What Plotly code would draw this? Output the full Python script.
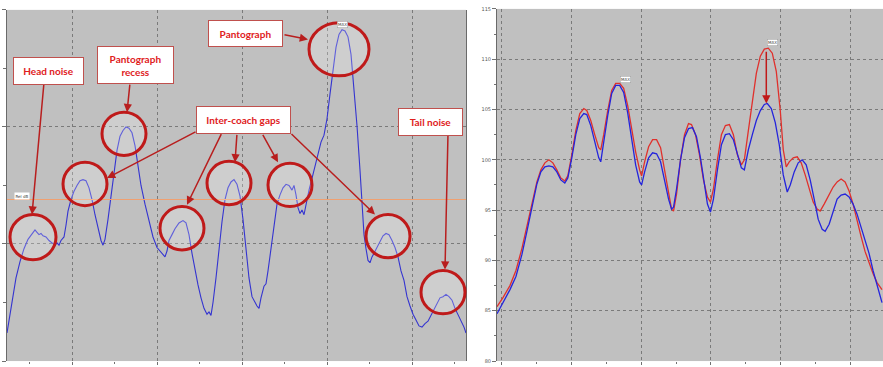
import plotly.graph_objects as go

# ---------------- DATA ----------------
# Left panel: pass-by level along the train (sample position, relative dB)
left_pos = [7,10,13,16,20,24,28,32,35,37,39,41,43,46,49,52,55,57,59,61,64,66,68,71,74,77,80,83,86,89,
            92,95,98,101,103,105,108,111,114,117,120,123,126,129,132,135,138,141,145,149,153,157,161,165,
            167,169,172,175,179,183,186,189,192,195,198,201,204,207,209,211,213,216,219,222,225,228,231,234,
            237,240,243,246,249,252,255,257,259,261,264,266,268,271,274,277,280,283,286,289,292,294,296,298,
            300,302,304,306,309,312,315,318,321,324,327,330,333,336,339,342,345,348,351,354,357,360,362,364,
            366,368,370,372,374,377,380,383,386,389,392,395,398,401,404,407,410,413,416,419,422,425,428,431,
            434,437,440,443,446,449,452,455,458,461,464,466]
left_level = [62.4,63.9,65.5,67.1,68.5,69.6,70.4,70.9,71.2,71.0,70.8,70.9,70.7,70.6,70.3,70.1,69.9,70.1,69.9,70.3,
              70.6,71.6,72.8,73.8,74.5,75.0,75.4,75.5,75.4,74.8,
              73.8,72.5,71.3,70.3,69.9,70.4,72.1,74.2,76.3,78.0,79.2,79.7,80.0,79.9,79.5,78.4,76.7,75.0,73.4,71.9,70.6,69.7,69.3,68.9,
              69.4,70.3,70.8,71.3,71.8,72.0,71.8,70.8,69.2,67.7,66.5,65.4,64.5,64.0,64.2,63.9,65.0,67.1,69.6,71.9,73.8,74.8,75.3,75.5,
              75.1,74.1,72.1,69.6,67.1,65.5,65.0,64.7,64.5,65.4,66.4,66.6,67.7,69.6,71.7,73.4,74.2,74.8,75.1,75.0,74.6,75.0,74.2,73.1,
              72.6,72.9,72.5,73.4,74.6,75.6,76.7,77.8,78.7,79.3,80.7,82.8,84.9,86.8,87.9,88.3,88.2,87.7,86.2,83.4,80.1,76.3,73.4,70.8,
              69.6,68.6,68.4,68.9,69.2,69.7,70.3,70.7,70.9,70.8,70.3,69.7,68.9,67.7,66.9,65.5,64.7,64.0,63.5,63.0,62.9,63.2,63.4,63.9,
              64.5,65.0,65.4,65.5,65.7,65.5,65.2,64.5,64.0,63.5,62.9,62.4]
threshold_level = 73.8

# Right panel: two measured profiles
red_pos = [497,503,510,516,522,527,532,537,541,545,549,553,557,561,565,568,572,576,580,584,587,591,595,599,601,604,608,612,616,620,
           624,628,632,636,640,642,645,649,653,657,661,665,669,672,674,677,681,685,689,692,696,700,704,708,711,714,718,722,726,730,
           734,738,742,745,749,753,757,761,765,769,773,777,781,784,787,790,794,798,802,806,810,814,818,821,825,830,834,838,842,846,
           850,854,858,862,866,870,874,878,883]
red_level = [85.4,86.3,87.5,89.0,91.2,93.3,95.6,97.8,99.0,99.7,100.0,99.7,99.0,98.2,97.9,98.4,100.5,102.9,104.6,105.1,104.9,103.9,102.5,101.2,101.0,102.5,104.9,106.9,107.6,107.6,
             107.1,105.4,103.1,100.8,99.0,98.4,99.8,101.3,102.0,102.0,101.2,99.0,96.6,95.1,94.9,96.6,100.0,102.5,103.6,103.5,102.5,100.5,98.0,96.3,95.8,97.1,100.0,102.5,103.4,103.5,
             102.5,100.5,99.5,100.0,102.9,105.9,108.6,110.3,111.0,111.1,110.6,108.8,104.9,101.0,99.3,99.8,100.2,100.3,99.7,98.5,97.1,95.8,95.1,94.9,95.6,96.6,97.3,97.8,98.1,97.8,
             96.9,95.6,93.9,92.4,90.9,89.7,88.7,87.8,87.1]
blue_pos = [497,503,510,516,522,527,532,537,541,545,549,553,557,561,565,568,572,576,580,584,587,591,595,599,601,604,608,612,616,620,
            624,628,632,636,640,642,645,649,653,657,661,665,669,672,674,677,681,685,689,693,697,701,705,708,711,714,718,722,726,730,
            734,738,742,745,749,753,757,761,765,768,772,776,780,784,788,791,795,799,803,807,811,815,819,823,826,830,834,838,842,846,
            850,854,858,862,866,870,874,878,883]
blue_level = [84.7,85.8,87.1,88.4,90.6,92.9,95.3,97.6,98.8,99.3,99.4,99.3,98.8,98.0,97.7,98.2,100.2,102.5,104.1,104.6,104.5,103.4,101.8,100.2,99.8,101.8,104.4,106.6,107.4,107.4,
              106.7,104.7,102.2,99.5,97.8,97.5,98.8,100.2,100.7,100.6,99.8,98.0,96.1,95.1,95.3,97.1,100.0,102.2,103.1,103.2,102.3,100.2,97.5,95.6,94.8,96.1,99.0,101.5,102.5,102.6,
              102.0,100.5,99.2,99.0,101.0,102.5,103.9,104.9,105.5,105.6,105.1,103.7,101.5,98.5,96.8,97.5,98.8,99.7,100.0,99.5,98.0,96.1,94.1,93.1,92.9,93.6,94.9,96.1,96.5,96.6,
              96.3,95.6,94.6,93.3,92.2,90.7,89.0,87.5,85.8]
right_ticks = [80, 85, 90, 95, 100, 105, 110, 115]

W, H = 883, 367
def fx(p): return p / W
def fy(p): return 1 - p / H

fig = go.Figure()
fig.add_trace(go.Scatter(x=left_pos, y=left_level, mode="lines",
                         line=dict(color="#3434d0", width=1.1), xaxis="x", yaxis="y", showlegend=False))
fig.add_trace(go.Scatter(x=red_pos, y=red_level, mode="lines",
                         line=dict(color="#e0302c", width=1.3), xaxis="x2", yaxis="y2", showlegend=False))
fig.add_trace(go.Scatter(x=blue_pos, y=blue_level, mode="lines",
                         line=dict(color="#2424dc", width=1.3), xaxis="x2", yaxis="y2", showlegend=False))

grid = dict(showgrid=True, gridcolor="#7a7a7a", griddash="dot", gridwidth=1, zeroline=False)
fig.update_layout(
    width=W, height=H, autosize=False, margin=dict(l=0, r=0, t=0, b=0),
    paper_bgcolor="white", plot_bgcolor="#c0c0c0",
    xaxis=dict(domain=[fx(7), fx(466)], range=[7, 466], tick0=72, dtick=85, showticklabels=False,
               ticks="outside", ticklen=3, tickcolor="#707070",
               minor=dict(ticks="outside", ticklen=2, dtick=42.5, tick0=72, tickcolor="#707070", showgrid=False),
               showline=False, **grid),
    yaxis=dict(domain=[fy(364), fy(7)], range=[60, 90], dtick=10, showticklabels=False,
               ticks="outside", ticklen=4, tickcolor="#707070",
               minor=dict(ticks="outside", ticklen=3, dtick=5, tickcolor="#707070", showgrid=False),
               showline=True, linecolor="#6a6a6a", linewidth=1, mirror=True, **grid),
    xaxis2=dict(domain=[fx(497), 1.0], range=[497, 884], tick0=502, dtick=69.8, showticklabels=False,
                ticks="outside", ticklen=3, tickcolor="#707070",
                minor=dict(ticks="outside", ticklen=2, dtick=34.9, tick0=502, tickcolor="#707070", showgrid=False),
                showline=False, anchor="y2", **grid),
    yaxis2=dict(domain=[fy(364), fy(6)], range=[80, 115], tickvals=right_ticks, anchor="x2",
                tickfont=dict(size=5, color="#555555", family="DejaVu Sans"),
                ticks="outside", ticklen=4, tickcolor="#707070",
                minor=dict(ticks="outside", ticklen=2, dtick=2.5, tickcolor="#707070", showgrid=False),
                showline=True, linecolor="#6a6a6a", linewidth=1, **grid),
)

# threshold line in left panel
fig.add_shape(type="line", xref="x domain", yref="y", x0=0, x1=1, y0=threshold_level, y1=threshold_level,
              line=dict(color="#f0a070", width=1), layer="above")

# circles
circle_color = "#bf1a1a"
circles = [(33, 238, 23, 23), (124, 133, 22, 22), (85, 184, 22, 22), (182, 229, 22, 22), (229, 183, 22, 22),
           (290, 185, 22, 22), (388, 237, 22, 22), (443, 294, 22, 22), (339, 47, 30, 27)]
for cx, cy, rx, ry in circles:
    fig.add_shape(type="circle", xref="paper", yref="paper",
                  x0=fx(cx - rx), x1=fx(cx + rx), y0=fy(cy + ry), y1=fy(cy - ry),
                  line=dict(color=circle_color, width=3), fillcolor="rgba(255,255,255,0.22)", layer="above")

# arrows
arrow_color = "#b81e1e"
arrows = [((44, 83), (32, 215)), ((130, 82), (127, 111)), ((283, 32), (308, 37)),
          ((197, 131), (107, 178)), ((222, 133), (187, 205)), ((237, 133), (235, 162)),
          ((262, 133), (278, 162)), ((290, 133), (375, 215)), ((448, 135), (445, 271))]
for (sx, sy), (ex, ey) in arrows:
    fig.add_annotation(x=fx(ex), y=fy(ey), xref="paper", yref="paper", text="", showarrow=True,
                       ax=sx - ex, ay=sy - ey, axref="pixel", ayref="pixel",
                       arrowhead=2, arrowsize=1.1, arrowwidth=1.5, arrowcolor=arrow_color, standoff=0)

# label boxes
boxes = [("Head noise", 48.5, 69, 71, 28), ("Pantograph<br>recess", 135.5, 63, 77, 38),
         ("Pantograph", 245.5, 31.5, 75, 27), ("Inter-coach gaps", 243.5, 119, 95, 28),
         ("Tail noise", 430.5, 121, 65, 28)]
for txt, cx, cy, w, h in boxes:
    fig.add_annotation(x=fx(cx), y=fy(cy), xref="paper", yref="paper", text="<b>" + txt + "</b>",
                       showarrow=False, xanchor="center", yanchor="middle", width=w - 2, height=h - 2,
                       bgcolor="white", bordercolor="#c0504d", borderwidth=1, borderpad=0,
                       font=dict(family="Lato", size=10, color="#e0201c"), align="center")

# MAX tags
max_font = dict(family="DejaVu Sans", size=4, color="#444444")
fig.add_annotation(x=342, y=88.3, xref="x", yref="y", text="MAX", showarrow=False, yshift=5,
                   bgcolor="white", bordercolor="#999999", borderwidth=0.5, borderpad=0.5, font=max_font)
fig.add_annotation(x=623, y=107.6, xref="x2", yref="y2", text="MAX", showarrow=False, yshift=4, xshift=3,
                   bgcolor="white", bordercolor="#999999", borderwidth=0.5, borderpad=0.5, font=max_font)
fig.add_annotation(x=771, y=111.1, xref="x2", yref="y2", text="MAX", showarrow=False, yshift=6, xshift=2,
                   bgcolor="white", bordercolor="#999999", borderwidth=0.5, borderpad=0.5, font=max_font)
fig.add_annotation(x=fx(14), y=fy(196), xref="paper", yref="paper", text="Rel dB", showarrow=False,
                   bgcolor="white", borderpad=0.5, font=dict(family="DejaVu Sans", size=4, color="#444444"))

# red arrow from red maximum down to blue maximum
fig.add_annotation(x=767, y=105.6, xref="x2", yref="y2", ax=767, ay=110.9, axref="x2", ayref="y2",
                   text="", showarrow=True, arrowhead=2, arrowsize=1.1, arrowwidth=1.5,
                   arrowcolor="#c01818", standoff=0)

fig.write_html("out.html", config={"displayModeBar": False},
               post_script="document.body.style.margin='0';document.body.style.overflow='hidden';")
